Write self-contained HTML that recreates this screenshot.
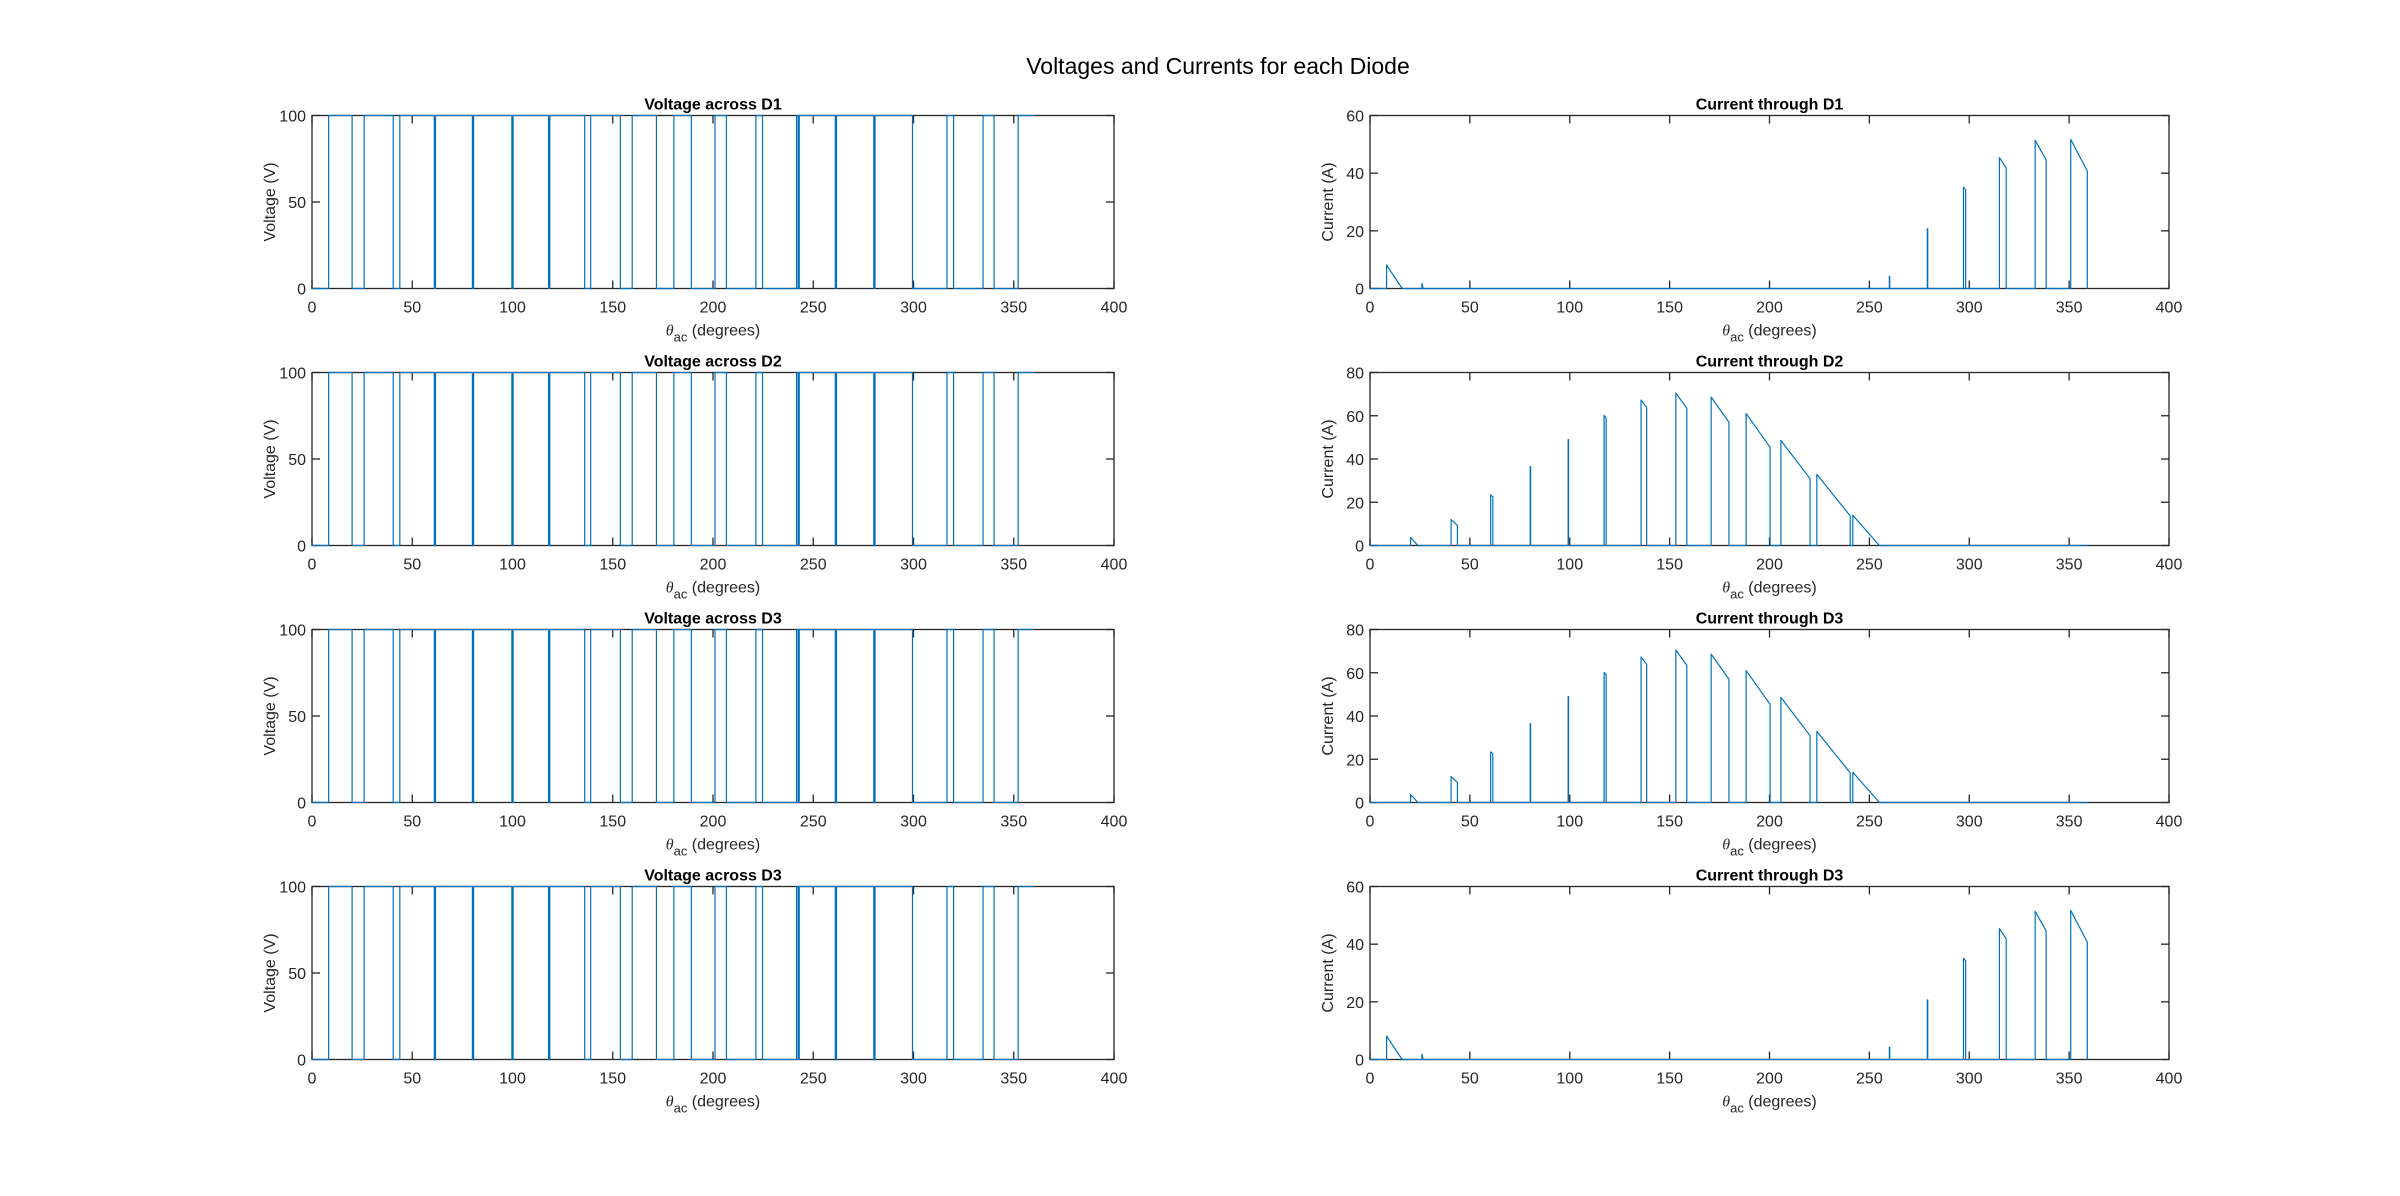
<!DOCTYPE html>
<html><head><meta charset="utf-8"><style>
html,body{margin:0;padding:0;background:#fff;}
svg{display:block;font-family:"Liberation Sans",Arial,sans-serif;}
</style></head><body>
<svg id="fig" width="2400" height="1196" viewBox="0 0 2400 1196" xmlns="http://www.w3.org/2000/svg">
<rect x="0" y="0" width="2400" height="1196" fill="#fff"/>
<text x="1218" y="74" font-size="23" text-anchor="middle" fill="#000">Voltages and Currents for each Diode</text>
</svg>
<script>
// Voltage step waveform: angle where level starts, and level
const vAngles = [0, 8.3, 20, 26, 40.5, 43.8, 61, 61.6, 80, 80.6, 99.7, 100.3, 118, 118.6, 136, 139, 153.8, 159.7, 171.8, 180.5, 189.2, 201, 206.7, 221.4, 224.7, 241.7, 242.5, 243, 261, 261.6, 280.2, 280.8, 299.5, 316.7, 320, 334.7, 340.2, 352.2];
const vLevels = [0,100,0,100,0,100,0,100,0,100,0,100,0,100,0,100,0,100,0,100,0,100,0,100,0,100,0,100,0,100,0,100,0,100,0,100,0,100];
const vEnd = 360;
// Current pulses D1 / D4
const c1Start = [8.3, 26, 260, 279, 297.1, 315.1, 333, 350.8];
const c1End   = [16.1, 26.6, 260.2, 279.2, 298.2, 318.5, 338.5, 359.1];
const c1I0    = [8.1, 1.8, 4.2, 20.7, 35.1, 45.4, 51.4, 51.7];
const c1I1    = [0, 0, 4.2, 20.7, 34.3, 41.8, 44.6, 40.7];
// Current pulses D2 / D3
const c2Start = [20.3, 40.6, 60.4, 80.2, 99.2, 117.2, 135.7, 153.1, 170.8, 188.3, 205.7, 223.7, 241.7];
const c2End   = [24, 43.75, 61.5, 80.4, 99.4, 118.2, 138.5, 158.6, 179.7, 200.3, 220.3, 240.4, 255];
const c2I0    = [3.7, 12.0, 23.4, 36.5, 49, 60.2, 67.3, 70.5, 68.6, 61, 48.6, 32.9, 14];
const c2I1    = [0, 9.3, 22.5, 36.5, 49, 59, 63.9, 63.5, 57, 45.4, 30.9, 13.7, 0];
const xTicks = [0,50,100,150,200,250,300,350,400];
const vTicks = [0,50,100];
const c1Ticks = [0,20,40,60];
const c2Ticks = [0,20,40,60,80];

const NS='http://www.w3.org/2000/svg';
const svg=document.getElementById('fig');
const COLOR='#0072BD';
function mk(tag,attrs,parent){const e=document.createElementNS(NS,tag);for(const k in attrs)e.setAttribute(k,attrs[k]);(parent||svg).appendChild(e);return e;}

function axes(x0,y0,w,h,ymax,yTicks,title,ylabel,name){
  const g=mk('g',{});
  
  
  const sx=v=>x0+v/400*w, sy=v=>y0+h-v/ymax*h;
  return {g,sx,sy,x0,y0,w,h,ymax,yTicks,title,ylabel,name};
}
function frame(a){
  const {g,sx,sy,x0,y0,w,h}=a;
  const box=mk('rect',{x:x0,y:y0,width:w,height:h,fill:'none',stroke:'#262626','stroke-width':1.3},g);
  
  
  xTicks.forEach(t=>{
    const x=sx(t);
    mk('line',{x1:x,x2:x,y1:y0+h,y2:y0+h-8,stroke:'#262626','stroke-width':1.3},g);
    mk('line',{x1:x,x2:x,y1:y0,y2:y0+8,stroke:'#262626','stroke-width':1.3},g);
    const tx=mk('text',{x:x,y:y0+h+24,'font-size':16,'text-anchor':'middle',fill:'#262626'},g);
    tx.textContent=t;
    
    
  });
  a.yTicks.forEach(t=>{
    const y=sy(t);
    mk('line',{x1:x0,x2:x0+8,y1:y,y2:y,stroke:'#262626','stroke-width':1.3},g);
    mk('line',{x1:x0+w,x2:x0+w-8,y1:y,y2:y,stroke:'#262626','stroke-width':1.3},g);
    const ty=mk('text',{x:x0-6,y:y+6,'font-size':16,'text-anchor':'end',fill:'#262626'},g);
    ty.textContent=t;
    
    
  });
  const tt=mk('text',{x:x0+w/2,y:y0-6,'font-size':16,'font-weight':'bold','text-anchor':'middle',fill:'#000'},g);
  tt.textContent=a.title;
  
  
  const xl=mk('text',{x:x0+w/2,y:y0+h+47,'font-size':16,'text-anchor':'middle',fill:'#262626'},g);
  xl.innerHTML='<tspan font-style="italic" font-family="Liberation Serif, serif">θ</tspan><tspan dy="6" font-size="13">ac</tspan><tspan dy="-6"> (degrees)</tspan>';
  
  
  const yl=mk('text',{x:0,y:0,'font-size':16,'text-anchor':'middle',fill:'#262626',transform:`translate(${x0-37},${y0+h/2}) rotate(-90)`},g);
  yl.textContent=a.ylabel;
  
  
}
function voltage(a){
  let d='';
  for(let i=0;i<vAngles.length;i++){
    const x=a.sx(vAngles[i]), y=a.sy(vLevels[i]);
    d+=(i===0?'M':'L')+x+','+y;
    const xn=a.sx(i+1<vAngles.length?vAngles[i+1]:vEnd);
    d+='L'+xn+','+y;
  }
  const p=mk('path',{d:d,fill:'none',stroke:COLOR,'stroke-width':1.2},a.g);
  
  
}
function current(a,S,E,I0,I1){
  let d='M'+a.sx(0)+','+a.sy(0);
  for(let i=0;i<S.length;i++){
    d+='L'+a.sx(S[i])+','+a.sy(0)+'L'+a.sx(S[i])+','+a.sy(I0[i])+'L'+a.sx(E[i])+','+a.sy(I1[i])+'L'+a.sx(E[i])+','+a.sy(0);
  }
  d+='L'+a.sx(359.1)+','+a.sy(0);
  const p=mk('path',{d:d,fill:'none',stroke:COLOR,'stroke-width':1.2,'stroke-linejoin':'round'},a.g);
  
  
}
const tops=[115.5,372.5,629.5,886.5];
const H=173;
const vTitles=['Voltage across D1','Voltage across D2','Voltage across D3','Voltage across D3'];
const cTitles=['Current through D1','Current through D2','Current through D3','Current through D3'];
for(let r=0;r<4;r++){
  const va=axes(312,tops[r],802,H,100,vTicks,vTitles[r],'Voltage (V)','voltage-plot-'+(r+1));
  frame(va); voltage(va);
  const big=(r===1||r===2);
  const ca=axes(1370,tops[r],799,H,big?80:60,big?c2Ticks:c1Ticks,cTitles[r],'Current (A)','current-plot-'+(r+1));
  frame(ca);
  if(big) current(ca,c2Start,c2End,c2I0,c2I1); else current(ca,c1Start,c1End,c1I0,c1I1);
}
</script>
</body></html>
